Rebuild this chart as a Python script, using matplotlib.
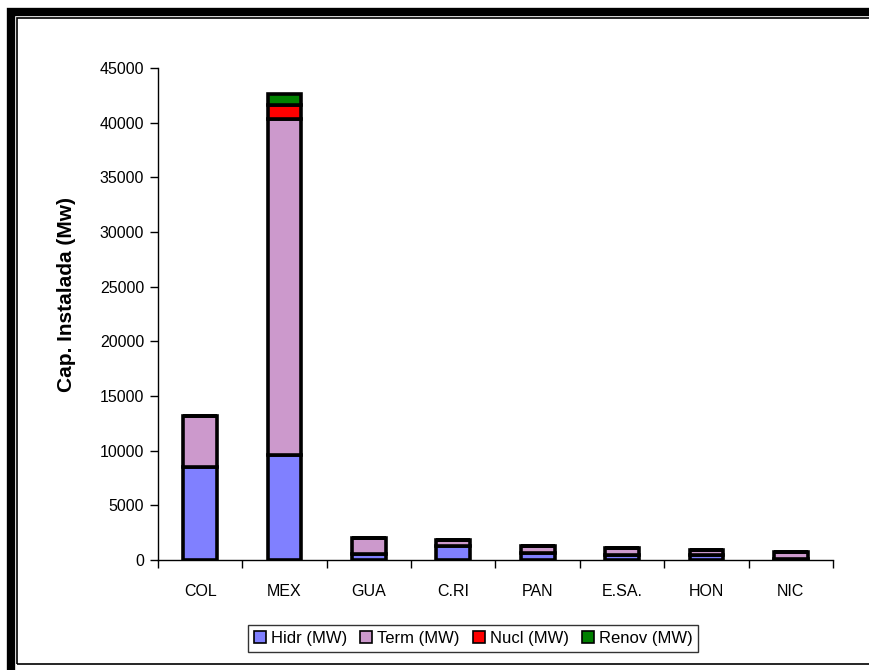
import numpy as np
import matplotlib.pyplot as plt
from matplotlib.patches import Rectangle

plt.rcParams['font.family'] = ['Liberation Sans', 'DejaVu Sans']

# Capacidad instalada por país y tecnología (MW)
paises = ["COL", "MEX", "GUA", "C.RI", "PAN", "E.SA.", "HON", "NIC"]
hidr = [8500, 9600, 550, 1250, 600, 450, 450, 100]
term = [4700, 30700, 1450, 550, 650, 650, 450, 650]
nucl = [0, 1360, 0, 0, 0, 0, 0, 0]
renov = [0, 1000, 0, 0, 0, 0, 0, 0]

series = [
    ("Hidr (MW)", hidr, "#8080ff"),
    ("Term (MW)", term, "#cc99cc"),
    ("Nucl (MW)", nucl, "#ff0000"),
    ("Renov (MW)", renov, "#008000"),
]

fig = plt.figure(figsize=(8.7, 6.7), dpi=100)
ax = fig.add_axes([158 / 870, 1 - 560 / 670, 675 / 870, 492 / 670])

x = np.arange(len(paises))
base = np.zeros(len(paises))
for nombre, vals, color in series:
    vals = np.array(vals, dtype=float)
    ax.bar(x, vals, width=0.4, bottom=base, color=color, edgecolor="black",
           linewidth=2.6, label=nombre, zorder=3)
    base += vals

ax.set_xlim(-0.5, len(paises) - 0.5)
ax.set_ylim(0, 45000)
ax.set_yticks(np.arange(0, 45001, 5000))
ax.tick_params(axis="y", direction="out", length=6, width=1, labelsize=11.5, pad=4)

# etiquetas de categoría centradas, marcas en los límites
ax.set_xticks(x)
ax.set_xticklabels(paises, fontsize=11.5)
ax.tick_params(axis="x", which="major", length=0, pad=17)
ax.set_xticks(np.arange(-0.5, len(paises)), minor=True)
ax.tick_params(axis="x", which="minor", direction="out", length=6, width=1)

for s in ["top", "right"]:
    ax.spines[s].set_visible(False)
ax.spines["left"].set_linewidth(1)
ax.spines["bottom"].set_linewidth(1)

ax.set_ylabel("Cap. Instalada (Mw)", fontsize=15, fontweight="bold")
ax.yaxis.set_label_coords(-82 / 675, 0.54)

leg = fig.legend(loc="center", bbox_to_anchor=(0.544, 0.047), ncol=4, fontsize=12,
                 frameon=True, fancybox=False, edgecolor="black", handlelength=0.7,
                 handleheight=0.7, handletextpad=0.3, columnspacing=0.8,
                 borderpad=0.35)
leg.get_frame().set_linewidth(1)
for h in leg.legend_handles:
    h.set_linewidth(1.2)

# marco exterior doble
fig.patches.append(Rectangle((11.5 / 870, -0.1), 2.0, 1 - 11.5 / 670 + 0.1, transform=fig.transFigure,
                             fill=False, edgecolor="black", linewidth=6, zorder=0))
fig.patches.append(Rectangle((17.5 / 870, 1 - 664 / 670), 2.0, (664 - 17.5) / 670,
                             transform=fig.transFigure, fill=False, edgecolor="black",
                             linewidth=1.2, zorder=0))

fig.savefig("out.png", dpi=100)
